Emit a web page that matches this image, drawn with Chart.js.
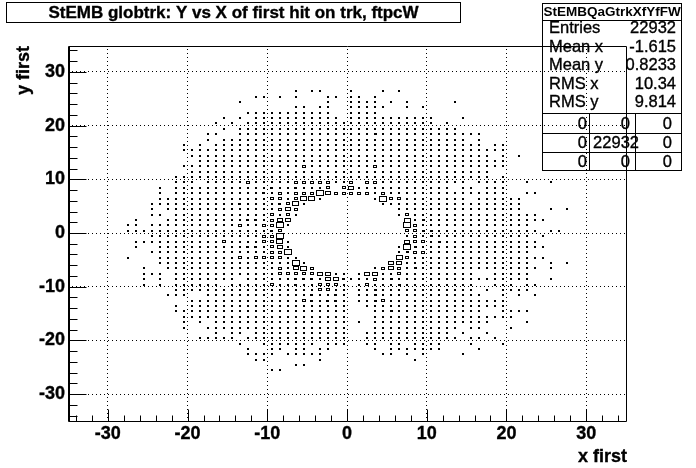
<!DOCTYPE html>
<html>
<head>
<meta charset="utf-8">
<title>StEMB globtrk</title>
<script src="https://cdn.jsdelivr.net/npm/chart.js@4/dist/chart.umd.min.js"></script>
<style>
html, body { margin: 0; padding: 0; background: #fff; overflow: hidden; }
canvas { display: block; }
</style>
</head>
<body>
<canvas id="hist" width="696" height="468"></canvas>
<script>
// Bin contents. Each row is one y bin, top one first, and each
// character is one x bin, in groups of 14. '.' empty, 1-6 growing box size.
var firstRow = 26;
var firstColumn = -28;
var cellRows = [
    ".............. .......1.11... 1...1.1....... ..............",
    ".............. ..11.1.1...11. 11.1.......... ..............",
    ".............. 1..........1.. 1111.1.1.....1 ..............",
    ".............. .......11.11.. 11111..1.1.... ..............",
    ".............. .11111111111.. 1111.......... ..............",
    "............1. 1.11111111111. 11111111111... 1.............",
    "...........1.1 .1111111111111 11111111111.1. ..............",
    "............1. 11111111111111 11111111111111 ..............",
    "..........11.. 11111111111111 11121111111111 111...........",
    "..........1.11 11111111111111 11111111111111 1.1...........",
    ".......1.1.111 11111111111111 11111111111111 111.11........",
    ".......1111111 11111111111111 11111111111111 111111........",
    "........111111 11111111111111 11111111111111 1111.1.1......",
    ".........11111 11111111111111 11111111111111 111111........",
    ".......1111111 11111111311111 11131111111111 111111........",
    "........111111 11111111111111 11111111111111 1111..........",
    "......11111111 11111111111111 11111111111111 1111.1........",
    "......111.1111 13111113333311 3.331111111111 1.1111..1..1..",
    "....1.11111111 111121121113.3 4111111111111. 11.111........",
    "....1.11111111 11121313336433 33313111111111 111111..11....",
    "....1111111111 11113313551... ...16331111111 1.111111......",
    "...11111111111 211112351..... ....1111111111 11111111......",
    "...1.111111111 11111343...... ......11111111 11111111...1.1",
    "...11.11111111 11113131...... ......13111111 1111111111....",
    ".1...111111111 1221344....... .......5121111 11111111111...",
    "11.11111111111 3113361....... .......6311111 111111111.....",
    "11111111111111 111123........ .......3322111 1111111111.11.",
    "...11111111111 111336........ .......1312111 111111111.1...",
    ".1111111111131 1113351....... .......4331211 1111111111....",
    ".1..1111111111 1221341....... ......16211111 11111111111...",
    "...11111111111 1111336....... ......12331111 111111111.....",
    "1...1111111111 31333311...... ......53111111 11111111111...",
    "....1111111111 111111161..... .....441111111 111111111..1.1",
    "..1..111111111 1111131453.... ...13431211111 1111111111.1..",
    "..111.11111111 11111333334411 .1441131111111 11..11111.....",
    "..1.1.11111111 .1111112221442 11131211111111 111111111..1..",
    "..1.1.111111.1 11113112113331 .1311121111111 11..111.11....",
    "......11111111 11111111113311 .1121111111111 11.1.1111.....",
    ".....111..1111 11111111121121 .1121111111111 111..1.1.1....",
    "........111111 11111111321221 .1123111111111 111111........",
    "......1.111111 11111111111111 ..111111111111 111111........",
    "......11111111 11111111111111 ...11211111111 111..1111.....",
    ".......1111111 11111111111111 ...11111111111 1111111.......",
    ".......1.1.111 11111111111111 .1.11111111111 1111....1.....",
    ".......1..1111 11111111111111 ...11111111111 .11...1.......",
    "...........1.1 1.111111111111 ..11111111111. 1..1..........",
    ".........11111 .1111111111111 ..111111111111 .11.1.........",
    ".............. 1..1111111.111 ..11.11.1111.. .1...1........",
    ".............. .1..11.11.11.. ...1.1111111.. ..1...........",
    ".............. .1111.11111... ....11.1.1.... 1.............",
    ".............. ..11......1... ........1..... ..............",
    ".............. .......11..... .............. ..............",
    ".............. ....11........ .............. .............."
];
var axisMajorTicks = [-30, -20, -10, 0, 10, 20, 30];
var axisMinorTicks = [-34, -32, -28, -26, -24, -22, -18, -16, -14, -12, -8, -6, -4, -2, 2, 4, 6, 8, 12, 14, 16, 18, 22, 24, 26, 28, 32, 34];
var histTitle = "StEMB globtrk: Y vs X of first hit on trk, ftpcW";
var statsName = "StEMBQaGtrkXfYfFW";
var statsLabels = ["Entries", "Mean x", "Mean y", "RMS x", "RMS y"];
var statsValues = ["22932", "-1.615", "0.8233", "10.34", "9.814"];
var overflowRows = [["0", "0", "0"], ["0", "22932", "0"], ["0", "0", "0"]];

var FONT = '"Liberation Sans", Arial, sans-serif';

// Box images for each size, width and height in pixels. The two smallest are solid.
var boxSizes = { 1: [2, 2], 2: [3, 2], 3: [4, 3], 4: [6, 4], 5: [7, 5], 6: [8, 6] };
var boxImages = {};
Object.keys(boxSizes).forEach(function(level) {
    var size = boxSizes[level];
    // one spare pixel on the left and top nudges the box half a pixel to the bin centre
    var c = document.createElement('canvas');
    c.width = size[0] + 1;
    c.height = size[1] + 1;
    var g = c.getContext('2d');
    g.fillStyle = '#000';
    g.fillRect(1, 1, size[0], size[1]);
    if (level > 2) {
        g.clearRect(2, 2, size[0] - 2, size[1] - 2);
    }
    boxImages[level] = c;
});

// Turn the rows into scatter points at the bin centres
var cells = [];
cellRows.forEach(function(text, r) {
    var row = text.replace(/ /g, '');
    for (var i = 0; i < row.length; i++) {
        if (row[i] !== '.') {
            cells.push({ x: firstColumn + i + 0.5, y: firstRow - r + 0.5, level: row[i] });
        }
    }
});

function line(ctx, x1, y1, x2, y2) {
    ctx.beginPath();
    ctx.moveTo(x1, y1);
    ctx.lineTo(x2, y2);
    ctx.stroke();
}

// Aliased text in the reference looks heavier, a thin stroke gets close to it
function heavyText(ctx, text, x, y) {
    ctx.fillText(text, x, y);
    ctx.strokeText(text, x, y);
}

// Frame, inward ticks, title box, axis titles and the stats box on top
var rootFrame = {
    id: 'rootFrame',
    beforeDatasetsDraw: function(chart) {
        chart.ctx.imageSmoothingEnabled = false;
    },
    afterDraw: function(chart) {
        var ctx = chart.ctx;
        var xs = chart.scales.x;
        var ys = chart.scales.y;
        var left = 68, right = 626, top = 46, bottom = 421;

        // the grid starts one pixel above the frame line, wipe those dots
        ctx.clearRect(left, top - 1, right - left + 1, 1);

        ctx.save();
        ctx.strokeStyle = '#000';
        ctx.fillStyle = '#000';
        ctx.lineWidth = 1;
        ctx.translate(0.5, 0.5);

        line(ctx, left, top, right, top);
        line(ctx, right, top, right, bottom);
        line(ctx, left, bottom, right, bottom);
        line(ctx, left, top, left, bottom);
        line(ctx, left + 1, top, left + 1, bottom);

        axisMajorTicks.forEach(function(v) {
            var px = Math.round(xs.getPixelForValue(v));
            var py = Math.round(ys.getPixelForValue(v));
            line(ctx, px, bottom, px, bottom - 12);
            line(ctx, left, py, left + 18, py);
        });
        axisMinorTicks.forEach(function(v) {
            var px = Math.round(xs.getPixelForValue(v));
            var py = Math.round(ys.getPixelForValue(v));
            line(ctx, px, bottom, px, bottom - 6);
            line(ctx, left, py, left + 9, py);
        });

        // title box
        ctx.strokeRect(6, 2, 454, 20);
        // stats box, it has no fill so the plot shows through
        ctx.strokeRect(542, 3, 139, 167);
        [20, 113, 133, 152].forEach(function(y) {
            line(ctx, 542, y, 681, y);
        });
        line(ctx, 589, 113, 589, 170);
        line(ctx, 635, 113, 635, 170);
        ctx.restore();

        ctx.save();
        ctx.fillStyle = '#000';
        ctx.strokeStyle = '#000';
        ctx.lineWidth = 0.35;
        ctx.textBaseline = 'alphabetic';

        ctx.font = 'bold 17px ' + FONT;
        ctx.textAlign = 'center';
        heavyText(ctx, histTitle, 233.5, 18);

        ctx.font = 'bold 18px ' + FONT;
        ctx.textAlign = 'right';
        heavyText(ctx, 'x first', 627, 462);

        ctx.save();
        ctx.translate(29, 46);
        ctx.rotate(-Math.PI / 2);
        heavyText(ctx, 'y first', 0, 0);
        ctx.restore();

        ctx.font = 'bold 13.5px ' + FONT;
        ctx.textAlign = 'left';
        ctx.fillText(statsName, 543.5, 16);

        ctx.font = '16.5px ' + FONT;
        var baselines = [33, 52, 70, 89, 107];
        statsLabels.forEach(function(label, i) {
            ctx.textAlign = 'left';
            heavyText(ctx, label, 549, baselines[i]);
            ctx.textAlign = 'right';
            heavyText(ctx, statsValues[i], 676, baselines[i]);
        });

        var rowBase = [129, 148, 167];
        overflowRows.forEach(function(row, i) {
            ctx.textAlign = 'right';
            heavyText(ctx, row[0], 587, rowBase[i]);
            heavyText(ctx, row[1], row[1].length > 1 ? 639 : 630, rowBase[i]);
            heavyText(ctx, row[2], 672, rowBase[i]);
        });
        ctx.restore();
    }
};

function axisOptions(fitKey, fitSize) {
    return {
        type: 'linear',
        min: -35,
        max: 35,
        afterBuildTicks: function(axis) {
            axis.ticks = axisMajorTicks.map(function(v) { return { value: v }; });
        },
        afterFit: function(axis) {
            axis[fitKey] = fitSize;
        },
        border: { display: false, dash: [1, 3] },
        grid: { color: '#000', lineWidth: 1, drawTicks: false },
        ticks: {
            color: '#000',
            font: { family: FONT, size: 18, weight: 'bold' },
            textStrokeColor: '#000',
            textStrokeWidth: 0.35,
            maxRotation: 0,
            autoSkip: false
        }
    };
}

var xAxis = axisOptions('height', 47);
xAxis.ticks.padding = 2;
var yAxis = axisOptions('width', 68);
yAxis.ticks.padding = 3;

new Chart(document.getElementById('hist'), {
    type: 'scatter',
    data: {
        datasets: [{
            data: cells,
            pointStyle: function(context) {
                return boxImages[context.raw ? context.raw.level : 1];
            },
            pointRadius: 3
        }]
    },
    options: {
        responsive: false,
        animation: false,
        layout: { padding: { left: 0, top: 45, right: 70, bottom: 0 } },
        plugins: {
            legend: { display: false },
            title: { display: false },
            tooltip: { enabled: false }
        },
        scales: { x: xAxis, y: yAxis }
    },
    plugins: [rootFrame]
});
</script>
</body>
</html>
